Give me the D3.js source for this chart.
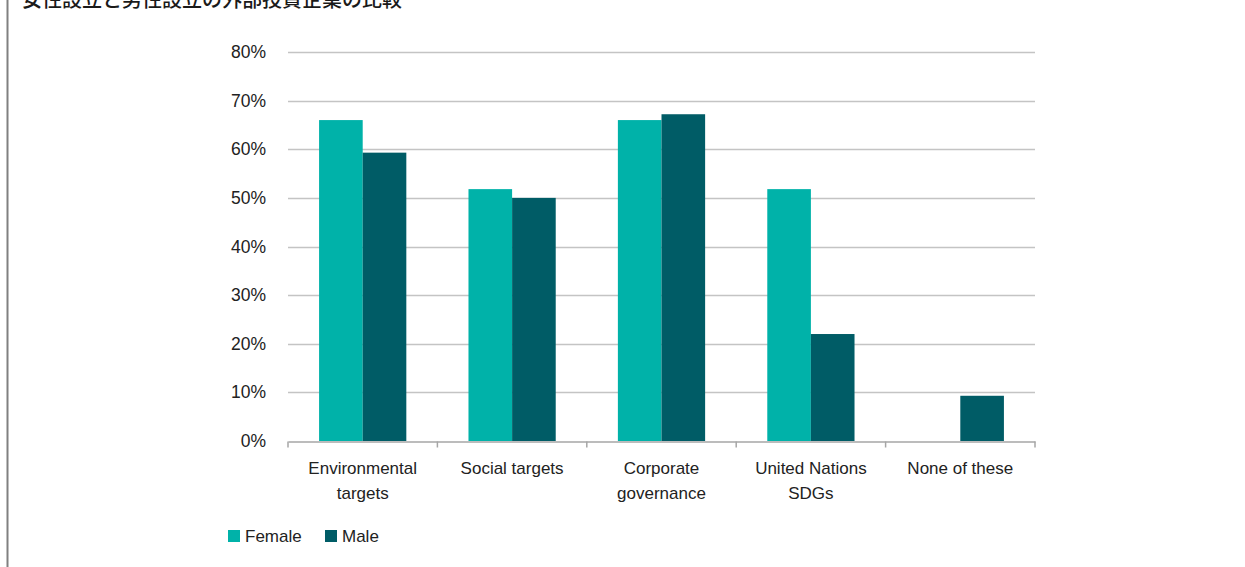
<!DOCTYPE html>
<html>
<head>
<meta charset="utf-8">
<script src="https://cdn.jsdelivr.net/npm/d3@7/dist/d3.min.js"></script>
<style>
  html, body { margin: 0; padding: 0; background: #fff; }
  svg { display: block; }
</style>
</head>
<body>
<svg id="chart" width="1245" height="567"></svg>
<script>
const title = "女性設立と男性設立の外部投資企業の比較";
const categories = ["Environmental targets", "Social targets", "Corporate governance", "United Nations SDGs", "None of these"];
const categoryLines = [["Environmental", "targets"], ["Social targets"], ["Corporate", "governance"], ["United Nations", "SDGs"], ["None of these"]];
const seriesNames = ["Female", "Male"];
const female = [0.66, 0.518, 0.66, 0.518, 0];
const male = [0.593, 0.50, 0.672, 0.22, 0.093];
const yTicks = [0, 0.1, 0.2, 0.3, 0.4, 0.5, 0.6, 0.7, 0.8];
const colors = ["#00B2A9", "#005C66"];

(function () {
const svg = d3.select("#chart");
const font = "'Liberation Sans', Arial, sans-serif";

// left frame line
svg.append("line").attr("x1", 7.5).attr("x2", 7.5).attr("y1", 0).attr("y2", 567)
  .attr("stroke", "#808080").attr("stroke-width", 2);

// title (clipped at top as in the reference)
svg.append("text").attr("x", 22).attr("y", 7)
  .attr("font-family", "'Noto Sans CJK JP', sans-serif").attr("font-size", 20).attr("font-weight", 500)
  .attr("fill", "#1a1a1a").text(title);

const pLeft = 288, pRight = 1035, pTop = 52, pBottom = 441;
const x0 = d3.scaleBand().domain(categories).range([pLeft, pRight]).paddingInner(0).paddingOuter(0);
const x1 = d3.scaleBand().domain(seriesNames).range([0, x0.bandwidth()]).paddingInner(0).paddingOuter(0.7125);
const y = d3.scaleLinear().domain([0, 0.8]).range([pBottom, pTop]);

// gridlines
svg.append("g").selectAll("line").data(yTicks.filter(d => d > 0)).join("line")
  .attr("x1", pLeft).attr("x2", pRight)
  .attr("y1", d => Math.round(y(d)) + 0.5).attr("y2", d => Math.round(y(d)) + 0.5)
  .attr("stroke", "#c4c4c4").attr("stroke-width", 1.3);

// y labels
const yAxis = svg.append("g").attr("transform", `translate(${pLeft},0)`)
  .call(d3.axisLeft(y).tickValues(yTicks).tickFormat(d3.format(".0%")).tickSize(0).tickPadding(22));
yAxis.select(".domain").remove();
yAxis.selectAll("text").attr("font-family", font).attr("font-size", 17.5).attr("fill", "#222");

// bars
const data = categories.map((c, i) => ({ c, vals: [female[i], male[i]] }));
const groups = svg.append("g").selectAll("g").data(data).join("g")
  .attr("transform", d => `translate(${x0(d.c)},0)`);
groups.selectAll("rect").data(d => d.vals.map((v, j) => ({ v, s: seriesNames[j], j })))
  .join("rect")
  .attr("x", d => x1(d.s)).attr("width", x1.bandwidth())
  .attr("y", d => y(d.v)).attr("height", d => pBottom - y(d.v))
  .attr("fill", d => colors[d.j]);

// x axis
const xAxis = svg.append("g").attr("transform", `translate(0,${pBottom + 0.5})`)
  .call(d3.axisBottom(x0).tickValues([]).tickSizeOuter(0));
xAxis.select(".domain").attr("stroke", "#a6a6a6").attr("stroke-width", 1.5);
const tickPos = categories.map(c => x0(c)).concat([pRight]);
xAxis.selectAll("line.tk").data(tickPos).join("line").attr("class", "tk")
  .attr("x1", d => d).attr("x2", d => d).attr("y1", 0).attr("y2", 6)
  .attr("stroke", "#a6a6a6").attr("stroke-width", 1.5);

// category labels
const lab = svg.append("g").selectAll("text").data(categories).join("text")
  .attr("x", c => x0(c) + x0.bandwidth() / 2).attr("y", 474)
  .attr("text-anchor", "middle").attr("font-family", font).attr("font-size", 17).attr("fill", "#222");
lab.each(function(c, i) {
  d3.select(this).selectAll("tspan").data(categoryLines[i]).join("tspan")
    .attr("x", x0(c) + x0.bandwidth() / 2).attr("dy", (d, k) => k === 0 ? 0 : 25).text(d => d);
});

// legend
const legendX = [228, 325];
seriesNames.forEach((s, i) => {
  svg.append("rect").attr("x", legendX[i]).attr("y", 530).attr("width", 12).attr("height", 12).attr("fill", colors[i]);
  svg.append("text").attr("x", legendX[i] + 17).attr("y", 542).attr("font-family", font)
    .attr("font-size", 17).attr("fill", "#222").text(s);
});
})();
</script>
</body>
</html>
